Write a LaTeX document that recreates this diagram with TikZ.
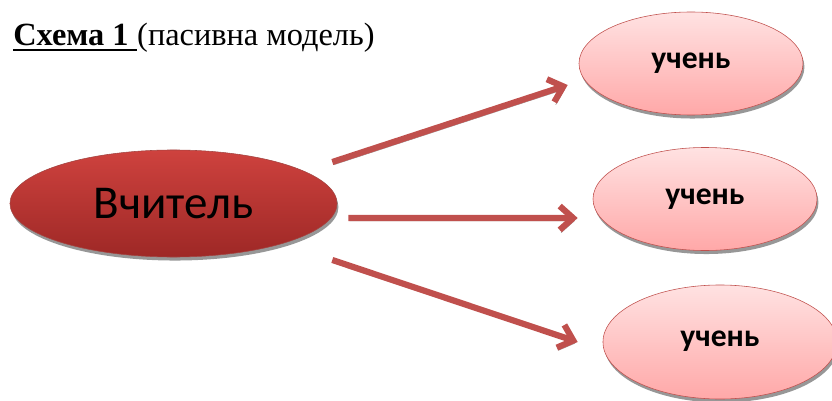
\documentclass[tikz,border=0pt]{standalone}
\usepackage{fontspec}
\setmainfont{Liberation Serif}
\newfontfamily\calfont{Carlito}
\usetikzlibrary{shapes.geometric,shadows,arrows.meta,calc}
\definecolor{accred}{RGB}{192,80,77}
\definecolor{teachtop}{RGB}{206,66,62}
\definecolor{teachbot}{RGB}{158,40,38}
\definecolor{pupiltop}{RGB}{255,226,226}
\definecolor{pupilbot}{RGB}{255,168,168}
\tikzset{
  teacher/.style={ellipse, draw=accred!85!black, top color=teachtop, bottom color=teachbot,
    minimum width=8.175cm, minimum height=2.675cm, inner sep=0pt,
    drop shadow={shadow xshift=1pt, shadow yshift=-2.5pt, fill=black!45, opacity=0.9},
    font=\calfont\fontsize{33.5}{33.5}\selectfont},
  pupil/.style={ellipse, draw=accred, top color=pupiltop, bottom color=pupilbot,
    minimum width=5.6cm, minimum height=2.575cm, inner sep=0pt,
    drop shadow={shadow xshift=1pt, shadow yshift=-2.5pt, fill=black!45, opacity=0.9},
    font=\calfont\bfseries\fontsize{22.5}{22.5}\selectfont},
  link/.style={draw=accred, line width=4.4pt, -{Straight Barb[length=9.5pt, width=17pt]},
    preaction={draw=black!40, transform canvas={shift={(1pt,-2pt)}}}},
  titletext/.style={inner sep=0pt, font=\fontsize{23}{23}\selectfont}
}
\begin{document}
\begin{tikzpicture}[x=0.025cm, y=-0.025cm]
  \useasboundingbox (0,0) rectangle (832,400);
  % title
  \node[titletext, anchor=base west] (head) at (13,46) {\textbf{Схема 1}\kern0.25em};
  \node[titletext, anchor=base west] (sub) at (head.base east) {(пасивна модель)};
  \draw[line width=1.5pt] ($(head.base west)+(0,4)$) -- ($(head.base east)+(0,4)$);
  % teacher and pupils
  \node[teacher] (t) at (173.5,203.5) {Вчитель};
  \node[pupil] (u1) at (691,63.5) {\raisebox{3pt}{учень}};
  \node[pupil] (u2) at (705,199) {учень};
  \node[pupil, minimum width=5.85cm, minimum height=2.85cm] (u3) at (720,342) {\raisebox{4pt}{учень}};
  % arrows
  \draw[link] ($(t.east)+(-5,-41.5)$) -- ($(u1.west)+(-11,21.5)$);
  \draw[link] ($(t.east)+(11,14.5)$) -- ($(u2.west)+(-15,19)$);
  \draw[link] ($(t.east)+(-5,56.5)$) -- ($(u3.west)+(-25,0)$);
\end{tikzpicture}
\end{document}
